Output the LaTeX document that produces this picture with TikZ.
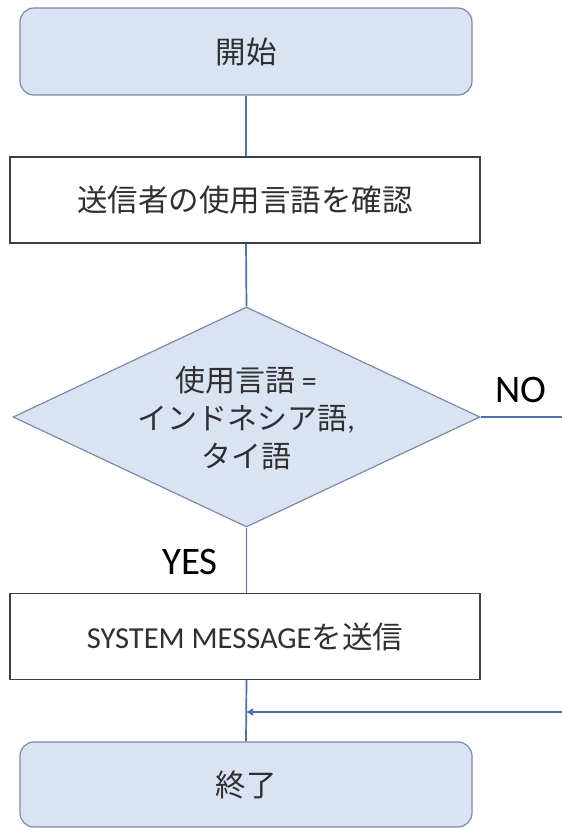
\documentclass[tikz,border=0pt]{standalone}
\usepackage{fontspec}
\setmainfont{Carlito}
\newfontfamily\jp{Noto Sans CJK JP}
\usetikzlibrary{arrows.meta,shapes.geometric}
\definecolor{boxfill}{HTML}{DAE3F3}
\definecolor{boxedge}{HTML}{7B8BA6}
\definecolor{linkcol}{HTML}{4A6FB5}
\definecolor{rectedge}{HTML}{404040}
\definecolor{txt}{HTML}{303030}
\tikzset{
  term/.style={draw=boxedge, fill=boxfill, rounded corners=14pt, line width=1.2pt,
    minimum width=452pt, minimum height=87pt, inner sep=0pt, text=txt,
    font=\fontsize{30.5}{34}\selectfont},
  proc/.style={draw=rectedge, fill=white, line width=1.2pt,
    minimum width=470pt, minimum height=86pt, inner sep=0pt, text=txt,
    font=\fontsize{30.5}{34}\selectfont},
  decision/.style={draw=boxedge, fill=boxfill, diamond, aspect=2.12, line width=1.2pt,
    minimum width=467pt, minimum height=220pt, inner sep=0pt},
  dtext/.style={align=center, text=txt, font=\fontsize{30}{38}\selectfont, inner sep=0pt},
  lbl/.style={text=black, font=\fontsize{39}{44}\selectfont, inner sep=0pt},
  link/.style={draw=linkcol, line width=1.7pt},
}
\begin{document}
\begin{tikzpicture}[x=1pt,y=-1pt]
\useasboundingbox (0,0) rectangle (562,828);
\node[term] (start) at (246,51.5) {\jp 開始};
\node[proc] (check) at (245,200) {\jp 送信者の使用言語を確認};
\node[decision] (dia) at (246.5,417) {};
\node[dtext] (dlab) at (246,418) {{\jp 使用言語} =\\{\jp インドネシア語},\\{\jp タイ語}};
\node[lbl] (no) at (521,390) {NO};
\node[lbl] (yes) at (190,562) {YES};
\node[proc] (send) at (245,636.5) {SYSTEM MESSAGE{\jp を送信}};
\node[term, minimum height=85pt] (finish) at (246,784.5) {\jp 終了};
\coordinate (noend) at (562,417);
\coordinate (retin) at (562,712);
\coordinate (join) at (246,712);
\draw[link] (start.south) -- (start.south |- check.north);
\draw[link] (start.south |- check.south) -- (dia.north);
\draw[link] (dia.east) -- (noend);
\draw[link] (dia.south) -- (dia.south |- send.north);
\draw[link] (dia.south |- send.south) -- (finish.north);
\draw[link, -{Latex[length=7pt,width=8pt]}] (retin) -- (join);
\end{tikzpicture}
\end{document}
